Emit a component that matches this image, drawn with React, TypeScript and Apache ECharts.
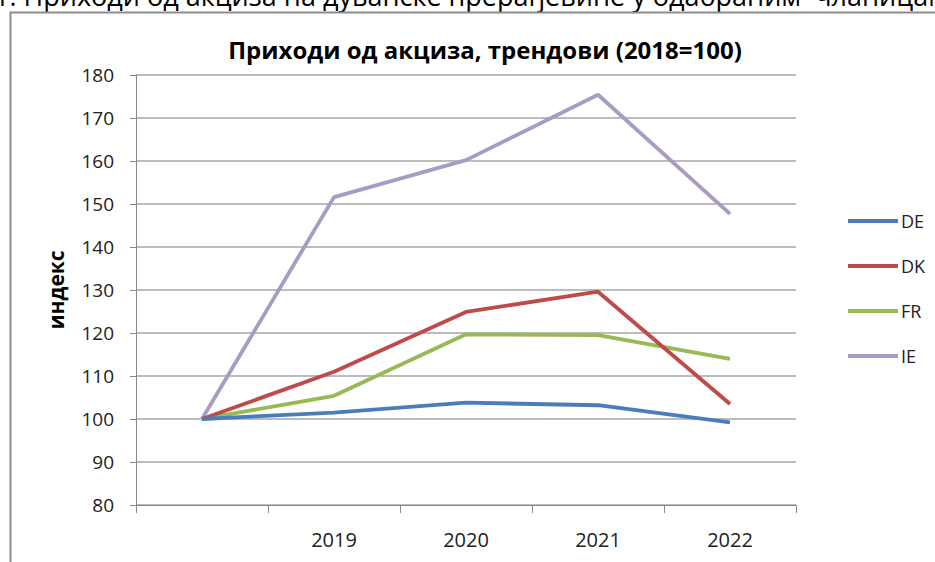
import React, { useEffect, useRef } from "react";
import * as echarts from "echarts";

const years = ["2018", "2019", "2020", "2021", "2022"];
const seriesNames = ["DE", "DK", "FR", "IE"];
const deValues = [100, 101.5, 103.8, 103.2, 99.2];
const dkValues = [100, 111, 124.9, 129.6, 103.5];
const frValues = [100, 105.4, 119.7, 119.5, 114];
const ieValues = [100, 151.6, 160.2, 175.4, 147.7];
const colors = ["#4a7ebb", "#be4b48", "#98b954", "#a99bc3"];
const yTicks = { min: 80, max: 180, interval: 10 };
const titleText = "Приходи од акциза, трендови (2018=100)";
const headerText = "1. Приходи од акциза на дуванске прерађевине у одабраним  чланицама";
const yName = "индекс";

export default function App() {
  const ref = useRef<HTMLDivElement>(null);
  useEffect(() => {
    if (!ref.current) return;
    const chart = echarts.init(ref.current, null, { renderer: "svg" });
    const font = "'Open Sans', 'Noto Sans', sans-serif";
    const values = [deValues, dkValues, frValues, ieValues];
    chart.setOption({
      animation: false,
      backgroundColor: "#ffffff",
      textStyle: { fontFamily: font },
      title: {
        text: titleText,
        left: 480,
        textAlign: "center",
        top: 32,
        textStyle: { fontSize: 24, fontWeight: "bold", color: "#000", fontFamily: font },
      },
      graphic: [
        {
          type: "text",
          left: -6,
          top: -18,
          style: { text: headerText, fontSize: 27, fill: "#000", fontFamily: font },
        },
        {
          type: "rect",
          shape: { x: 10.5, y: 12.5, width: 1000, height: 600 },
          style: { fill: "none", stroke: "#8c8c8c", lineWidth: 2 },
        },
      ],
      legend: {
        orient: "vertical",
        left: 843,
        top: 207,
        itemWidth: 50,
        itemHeight: 4,
        itemGap: 27,
        icon: "rect",
        data: seriesNames,
        textStyle: { fontSize: 18, color: "#222", fontFamily: font, padding: [0, 0, 0, -2] },
      },
      grid: { left: 136, top: 75, width: 660, height: 430, containLabel: false },
      xAxis: {
        type: "category",
        data: years,
        boundaryGap: true,
        axisLine: { lineStyle: { color: "#888", width: 1 } },
        axisTick: { show: true, length: 8, inside: false, lineStyle: { color: "#888" } },
        axisLabel: {
          fontSize: 20,
          color: "#222",
          margin: 24,
          formatter: (v: string, i: number) => (i === 0 ? "" : v),
        },
        splitLine: { show: false },
      },
      yAxis: {
        type: "value",
        min: yTicks.min,
        max: yTicks.max,
        interval: yTicks.interval,
        name: yName,
        nameLocation: "middle",
        nameGap: 70,
        nameRotate: 90,
        nameTextStyle: { fontSize: 21, fontWeight: "bold", color: "#000", fontFamily: font },
        axisLine: { show: true, lineStyle: { color: "#888", width: 1 } },
        axisTick: { show: true, length: 6, lineStyle: { color: "#888" } },
        axisLabel: { fontSize: 19, color: "#222", margin: 22 },
        splitLine: { show: true, lineStyle: { color: "#a6a6a6", width: 1.5 } },
      },
      series: seriesNames.map((name, i) => ({
        name,
        type: "line",
        data: values[i],
        symbol: "none",
        color: colors[i],
        lineStyle: { width: 3.8, color: colors[i] },
        z: 10 - i,
      })),
    });
    return () => chart.dispose();
  }, []);
  return (
    <div
      ref={ref}
      style={{ position: "fixed", left: 0, top: 0, width: 935, height: 562, background: "#fff" }}
    />
  );
}
